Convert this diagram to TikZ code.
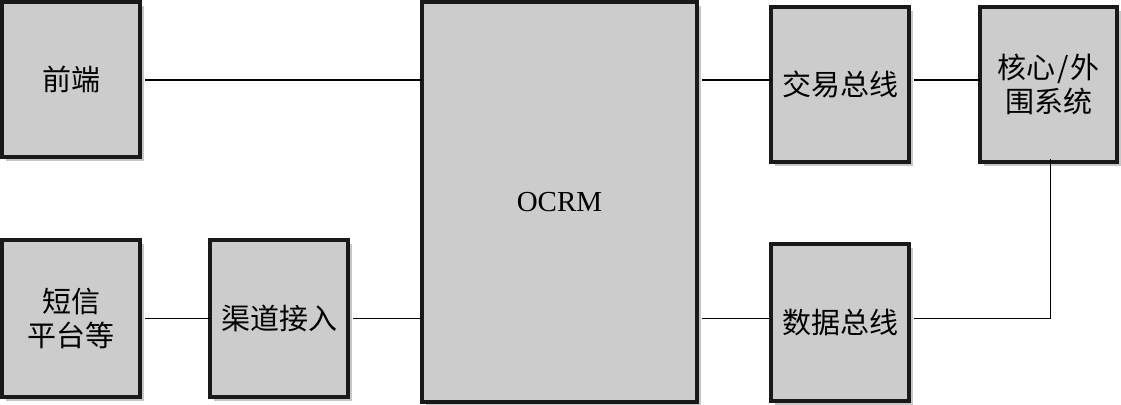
\documentclass[tikz,border=0pt]{standalone}
\usepackage{fontspec}
\setmainfont{Liberation Serif}
\newfontfamily\cjk{Noto Sans CJK SC}
\usetikzlibrary{shadows}
\begin{document}
\begin{tikzpicture}[x=1pt,y=-1pt,
  blk/.style={draw=black!90, line width=3.6pt, fill=black!20, rectangle,
    inner sep=0pt, outer sep=0pt, align=center,
    font=\cjk\fontsize{29}{34}\selectfont,
    drop shadow={shadow xshift=4pt, shadow yshift=-4pt, fill=black!22, opacity=1}},
  conn/.style={draw=black, line width=1.3pt},
  gap/.style={shorten <=5pt}]
\useasboundingbox (0,0) rectangle (1121,404);
\node[blk, minimum width=138pt, minimum height=155pt] (fe) at (71,79.5) {前端};
\node[blk, minimum width=138pt, minimum height=157pt] (dx) at (71,318.5) {短信\hspace{14pt}\\平台等};
\node[blk, minimum width=138pt, minimum height=157pt] (qd) at (279,318.5) {渠道接入};
\node[blk, minimum width=275pt, minimum height=400pt, font=\fontsize{29}{34}\selectfont] (ocrm) at (559.5,202) {OCRM};
\node[blk, minimum width=138pt, minimum height=155pt] (jy) at (840,84.5) {交易总线};
\node[blk, minimum width=137pt, minimum height=155pt] (hx) at (1048.5,84.5) {核心\hspace{2pt}/\hspace{2pt}外\\围系统};
\node[blk, minimum width=138pt, minimum height=157pt] (sj) at (840,322.5) {数据总线};
\coordinate (top) at (0,80);
\coordinate (bot) at (0,318);
\draw[conn, gap] (fe.east |- top) -- (top -| ocrm.west);
\draw[conn, gap] (ocrm.east |- top) -- (top -| jy.west);
\draw[conn, gap] (jy.east |- top) -- (top -| hx.west);
\draw[conn, line width=1pt, gap] (dx.east |- bot) -- (bot -| qd.west);
\draw[conn, line width=1pt, gap] (qd.east |- bot) -- (bot -| ocrm.west);
\draw[conn, line width=1pt, gap] (ocrm.east |- bot) -- (bot -| sj.west);
\draw[conn, line width=1pt, gap] (sj.east |- bot) -| ([xshift=1.5pt,yshift=3pt]hx.south);
\end{tikzpicture}
\end{document}
